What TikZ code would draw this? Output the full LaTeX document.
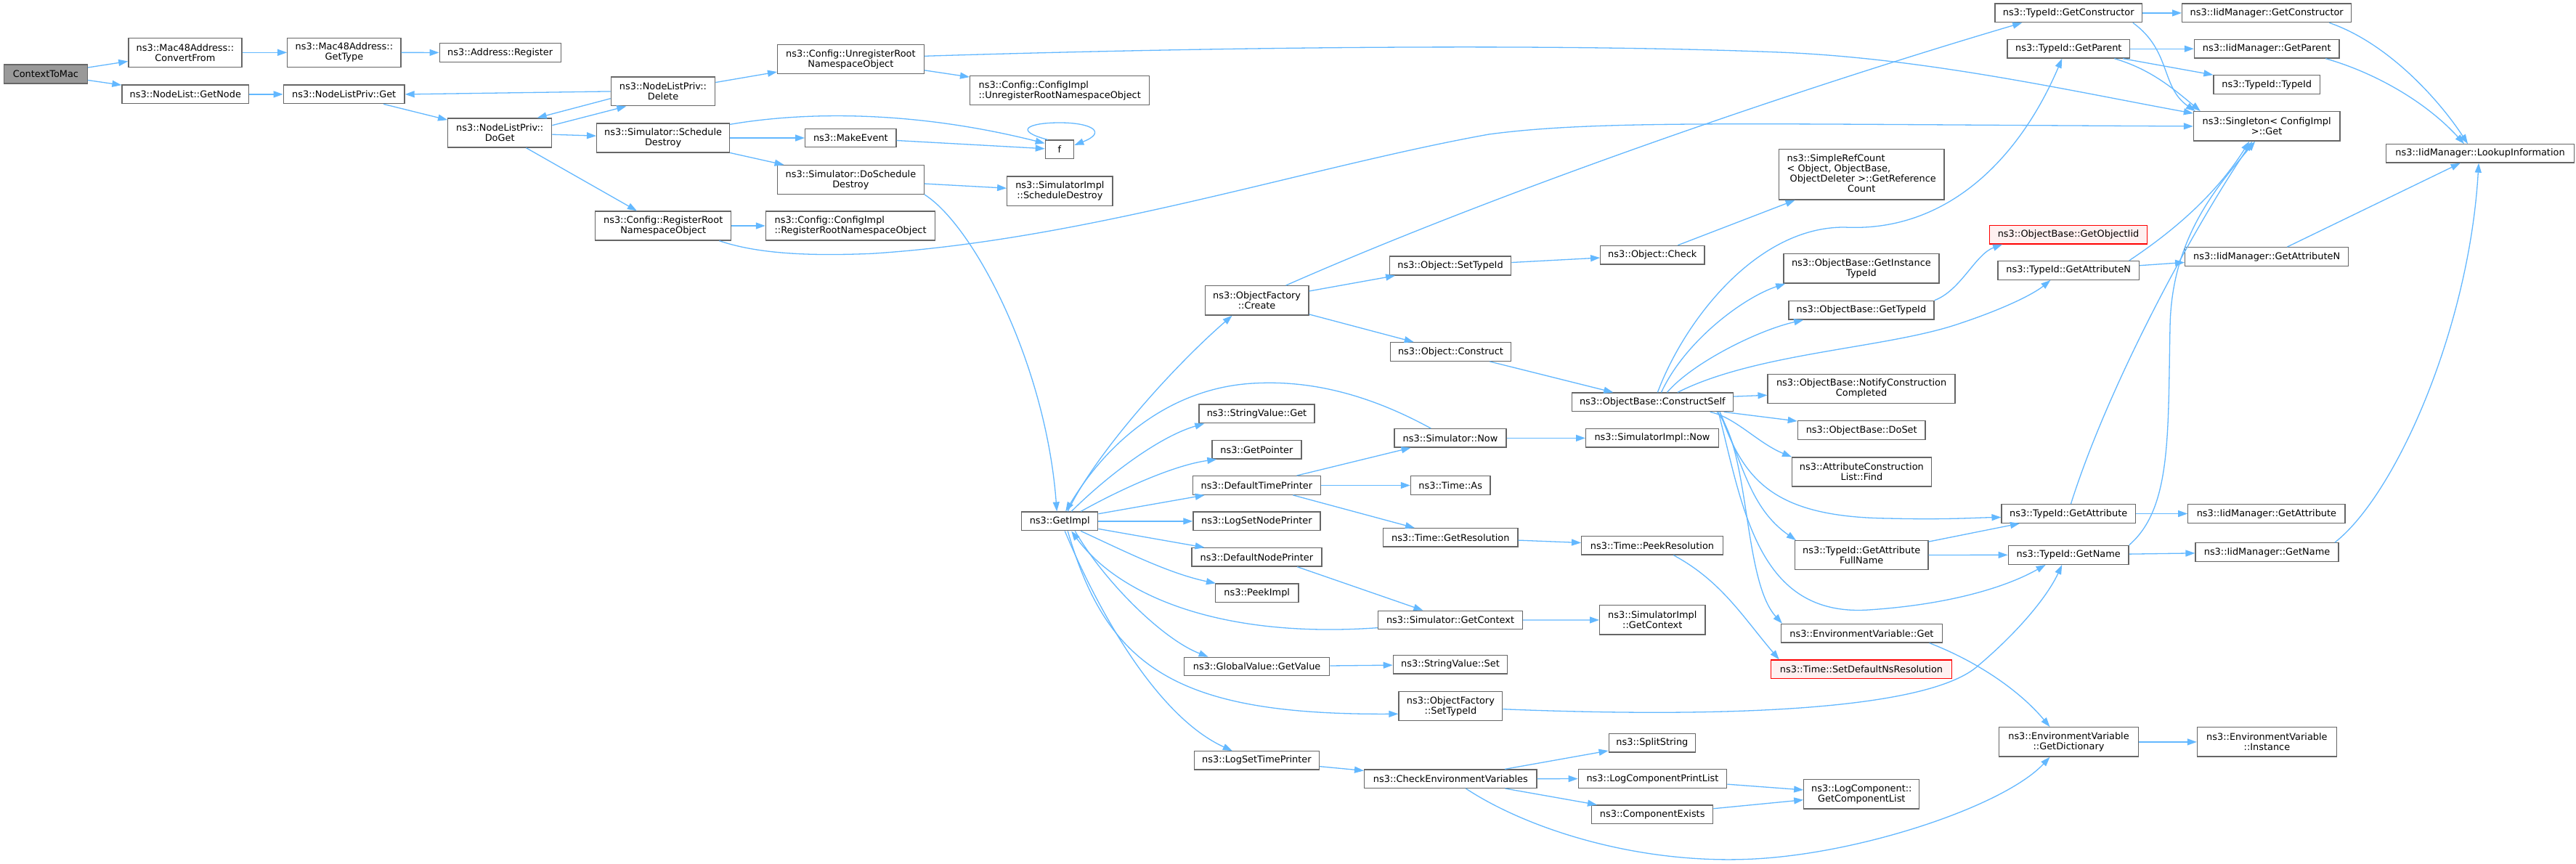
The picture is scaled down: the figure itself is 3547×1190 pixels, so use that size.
\documentclass[tikz,border=0pt]{standalone}
\usepackage{fontspec}
\setmainfont{DejaVu Sans}
\usetikzlibrary{arrows.meta,calc}
\definecolor{edgec}{HTML}{63B8FF}
\definecolor{bord}{HTML}{666666}
\definecolor{grayfill}{HTML}{999999}
\definecolor{redfill}{HTML}{FFF0F0}
\definecolor{redline}{HTML}{FF0000}
\newcommand\nd[7][]{\node[box,#1,minimum width=#5pt,minimum height=#6pt] (#2) at (#3,#4) {#7};}
\begin{document}
\begin{tikzpicture}[x=1pt,y=-1pt,
 box/.style={draw=bord, line width=1.3pt, fill=white, rectangle, inner sep=0pt, align=center, font=\fontsize{12.9}{14}\selectfont},
 rootbox/.style={fill=grayfill},
 redbox/.style={draw=redline, fill=redfill},
 e/.style={draw=edgec, line width=1.3pt, -{Triangle[length=13pt,width=9pt]}}]
\useasboundingbox (0,0) rectangle (3547,1190);
\fill[white] (0,0) rectangle (3547,1190);
% column 0-3
\nd[rootbox]{ctm}{62.9}{102}{114.8}{26}{ContextToMac}
\nd{cf}{254.9}{72.3}{156.1}{40}{ns3::Mac48Address::\\ConvertFrom}
\nd{gt}{473.9}{72.3}{156.2}{40}{ns3::Mac48Address::\\GetType}
\nd{reg}{688.7}{72.5}{167}{25.6}{ns3::Address::Register}
\nd{gn}{255.3}{129.9}{174.6}{25.7}{ns3::NodeList::GetNode}
\nd{nlg}{473.7}{129.9}{166.7}{25.7}{ns3::NodeListPriv::Get}
\nd{doget}{688.2}{183}{143}{40}{ns3::NodeListPriv::\\DoGet}
% column 4-6
\nd{del}{913}{125.9}{143.3}{39.7}{ns3::NodeListPriv::\\Delete}
\nd{sd}{913.1}{190}{182.8}{40}{ns3::Simulator::Schedule\\Destroy}
\nd{rr}{913.2}{311}{187.1}{40}{ns3::Config::RegisterRoot\\NamespaceObject}
\nd{unreg}{1171.4}{81.7}{201.6}{40}{ns3::Config::UnregisterRoot\\NamespaceObject}
\nd{me}{1171.4}{190}{125.3}{25.4}{ns3::MakeEvent}
\nd{dsd}{1171.4}{247.5}{201.6}{39.6}{ns3::Simulator::DoSchedule\\Destroy}
\nd[align=left]{cirr}{1171.1}{311}{233.4}{40}{ns3::Config::ConfigImpl\\::RegisterRootNamespaceObject}
\nd[align=left]{ciunreg}{1459.2}{124.5}{247.1}{40.4}{ns3::Config::ConfigImpl\\::UnregisterRootNamespaceObject}
\nd{f}{1459}{205.9}{39.3}{25.7}{f}
\nd{sisd}{1459.4}{263.2}{145.3}{40.3}{ns3::SimulatorImpl\\::ScheduleDestroy}
\nd{gimpl}{1459.2}{717.9}{105.1}{25.7}{ns3::GetImpl}
% column 7
\nd{ofc}{1730.6}{413.9}{142.8}{40.3}{ns3::ObjectFactory\\::Create}
\nd{svget}{1730.5}{569.9}{159}{25.7}{ns3::StringValue::Get}
\nd{gp}{1730.4}{619.4}{122.9}{25.3}{ns3::GetPointer}
\nd{dtp}{1730.4}{668.5}{176.1}{25.6}{ns3::DefaultTimePrinter}
\nd{lsnp}{1730.4}{717.9}{175}{25.7}{ns3::LogSetNodePrinter}
\nd{dnp}{1730.4}{767.4}{179.1}{25.3}{ns3::DefaultNodePrinter}
\nd{pi}{1730.7}{816.7}{114.3}{25.3}{ns3::PeekImpl}
\nd{gvgv}{1730.6}{918}{200}{25.4}{ns3::GlobalValue::GetValue}
\nd{lstp}{1730.4}{1047.4}{171.9}{25.3}{ns3::LogSetTimePrinter}
% column 8
\nd{ost}{1997}{366}{167.3}{26}{ns3::Object::SetTypeId}
\nd{oc}{1997.5}{484.5}{166.3}{25.6}{ns3::Object::Construct}
\nd{snow}{1997}{603.4}{154.2}{25.3}{ns3::Simulator::Now}
\nd{tas}{1997.2}{668.5}{109.5}{25.6}{ns3::Time::As}
\nd{tgr}{1997.3}{740.4}{185.3}{25.3}{ns3::Time::GetResolution}
\nd{sgc}{1997}{854}{198.9}{25.4}{ns3::Simulator::GetContext}
\nd{svs}{1997}{915.3}{157.3}{25.5}{ns3::StringValue::Set}
\nd{ofst}{1997.4}{972.6}{142.8}{40.2}{ns3::ObjectFactory\\::SetTypeId}
\nd{cev}{1997.3}{1072.7}{237.3}{25.3}{ns3::CheckEnvironmentVariables}
% column 9
\nd{chk}{2275.3}{351.2}{143.1}{25.7}{ns3::Object::Check}
\nd{cs}{2275.3}{553.9}{222.3}{25.7}{ns3::ObjectBase::ConstructSelf}
\nd{sinow}{2275}{603.4}{182.7}{25.3}{ns3::SimulatorImpl::Now}
\nd{tpr}{2275}{751.4}{194.6}{25.3}{ns3::Time::PeekResolution}
\nd{sigc}{2275.3}{853.9}{145.3}{40.3}{ns3::SimulatorImpl\\::GetContext}
\nd{split}{2274.9}{1023.2}{119.4}{25.7}{ns3::SplitString}
\nd{lcpl}{2275.5}{1072.5}{204.3}{25.6}{ns3::LogComponentPrintList}
\nd{ce}{2275.2}{1121.9}{167.1}{25.7}{ns3::ComponentExists}
% column 10
\nd{src}{2563.2}{240.4}{227.7}{69.3}{\begin{tabular}{@{}l@{}}ns3::SimpleRefCount\\< Object, ObjectBase,\\\hspace*{4pt}ObjectDeleter >::GetReference\\\multicolumn{1}{@{}c@{}}{Count}\end{tabular}}
\nd{git}{2562.9}{369.9}{214.1}{40.3}{ns3::ObjectBase::GetInstance\\TypeId}
\nd{gtid}{2562.9}{427.2}{200.1}{25.7}{ns3::ObjectBase::GetTypeId}
\nd{ncc}{2563.1}{535.3}{258}{40}{ns3::ObjectBase::NotifyConstruction\\Completed}
\nd{doset}{2563.2}{592.5}{175.7}{25.6}{ns3::ObjectBase::DoSet}
\nd{acl}{2563.4}{650}{192.4}{40}{ns3::AttributeConstruction\\List::Find}
\nd{gafn}{2563.2}{764.5}{183.3}{39.6}{ns3::TypeId::GetAttribute\\FullName}
\nd{evget}{2563.4}{872.2}{221.7}{25.7}{ns3::EnvironmentVariable::Get}
\nd[redbox]{sdnr}{2563}{921.9}{249.1}{25.7}{ns3::Time::SetDefaultNsResolution}
\nd{gcl}{2563.3}{1093.9}{159}{40.3}{ns3::LogComponent::\\GetComponentList}
% column 11
\nd{tgc}{2848.2}{17.9}{202.6}{25.7}{ns3::TypeId::GetConstructor}
\nd{tgp}{2848.3}{67.2}{168.9}{25.7}{ns3::TypeId::GetParent}
\nd[redbox]{goi}{2848}{323.2}{217.3}{25.7}{ns3::ObjectBase::GetObjectIid}
\nd{tgan}{2848.2}{372.4}{194.4}{25.8}{ns3::TypeId::GetAttributeN}
\nd{tga}{2848.2}{707.5}{184.2}{25.6}{ns3::TypeId::GetAttribute}
\nd{tgn}{2848.2}{764.3}{165.8}{26}{ns3::TypeId::GetName}
\nd{gdict}{2848.5}{1021.9}{191.9}{40.3}{ns3::EnvironmentVariable\\::GetDictionary}
% column 12
\nd{igc}{3121.2}{17.9}{233.1}{25.7}{ns3::IidManager::GetConstructor}
\nd{igp}{3121.2}{67.2}{199.5}{25.7}{ns3::IidManager::GetParent}
\nd{tti}{3121.2}{116.5}{146.4}{25.6}{ns3::TypeId::TypeId}
\nd{sing}{3121.2}{173.9}{201.5}{40.3}{ns3::Singleton< ConfigImpl\\ >::Get}
\nd{igan}{3121.2}{353.7}{225}{26}{ns3::IidManager::GetAttributeN}
\nd{iga}{3120.9}{707.5}{216.2}{25.6}{ns3::IidManager::GetAttribute}
\nd{ign}{3121.5}{760.5}{196.9}{25.6}{ns3::IidManager::GetName}
\nd{evi}{3121.4}{1021.9}{191.8}{40.3}{ns3::EnvironmentVariable\\::Instance}
% column 13
\nd{lookup}{3415}{211.4}{258.7}{25.3}{ns3::IidManager::LookupInformation}

% ---------------- edges ----------------
\draw[e] (ctm) -- (cf);
\draw[e] (ctm) -- (gn);
\draw[e] (cf) -- (gt);
\draw[e] (gt) -- (reg);
\draw[e] (gn) -- (nlg);
\draw[e] (nlg) -- (doget);
\draw[e] ($(doget.north east)+(0,10.3)$) -- ($(del.south west)+(21.6,0)$);
\draw[e] ($(del.west)+(0,9.8)$) -- ($(doget.north east)+(-20.7,0)$);
\draw[e] (del.west) -- (nlg.east);
\draw[e] (del) -- (unreg);
\draw[e] (unreg) -- (ciunreg);
\draw[e] ($(unreg.east)+(0,-4.4)$) .. controls (1700,64) and (2150,60) .. (2450,72) .. controls (2650,80) and (2850,125) .. ($(sing.north west)+(0,3)$);
\draw[e] (doget) -- (sd);
\draw[e] (doget) -- (rr);
\draw[e] ($(sd.north east)+(0,2)$) .. controls (1100,155) and (1250,150) .. ($(f.north west)+(0,5)$);
\draw[e] (sd) -- (me);
\draw[e] (sd) -- (dsd);
\draw[e] (me) -- (f);
\draw[e] ($(f.north west)+(4,0)$) .. controls (1395,180) and (1415,169) .. (1459,169) .. controls (1503,169) and (1525,182) .. ($(f.east)+(0,-6)$);
\draw[e] (dsd) -- (sisd);
\draw[e] (dsd.south east) .. controls (1340,310) and (1440,500) .. ($(gimpl.north)+(-4,0)$);
\draw[e] (rr) -- (cirr);
\draw[e] ($(rr.south east)+(-17,0)$) .. controls (1050,352) and (1130,352) .. (1200,349.3) .. controls (1500,330) and (1800,230) .. (2050,185) .. controls (2200,165) and (2400,171) .. (sing.west);
\draw[e] ($(gimpl.north)+(11,0)$) .. controls (1505,630) and (1610,510) .. ($(ofc.south west)+(38,0)$);
\draw[e] ($(ofc.north west)+(112,0)$) .. controls (2050,270) and (2450,130) .. ($(tgc.south west)+(38,0)$);
\draw[e] (ofc) -- (ost);
\draw[e] (ofc) -- (oc);
\draw[e] ($(snow.north)+(-26.6,0)$) .. controls (1870,535) and (1790,525) .. (1730.6,527.7) .. controls (1620,532) and (1530,600) .. ($(gimpl.north)+(8,0)$);
\draw[e] ($(gimpl.north)+(16,0)$) .. controls (1530,650) and (1600,600) .. ($(svget.south west)+(8,0)$);
\draw[e] ($(gimpl.north)+(29,0)$) .. controls (1550,670) and (1620,640) .. ($(gp.south west)+(7,0)$);
\draw[e] ($(gimpl.north east)+(0,3.3)$) -- ($(dtp.south west)+(17,0)$);
\draw[e] (gimpl) -- (lsnp);
\draw[e] ($(gimpl.south east)+(0,-3)$) -- ($(dnp.north west)+(18.4,0)$);
\draw[e] ($(gimpl.south)+(29,0)$) .. controls (1550,760) and (1610,790) .. ($(pi.north west)+(1,0)$);
\draw[e] ($(sgc.south west)+(0,-2.7)$) .. controls (1680,880) and (1540,820) .. ($(gimpl.south)+(16,0)$);
\draw[e] ($(gimpl.south)+(21,0)$) .. controls (1520,800) and (1600,880) .. ($(gvgv.north west)+(33.7,0)$);
\draw[e] ($(gimpl.south)+(11,0)$) .. controls (1525,920) and (1620,985) .. ($(ofst.west)+(0,10.7)$);
\draw[e] ($(gimpl.south)+(7,0)$) .. controls (1520,860) and (1600,990) .. ($(lstp.north west)+(53,0)$);
\draw[e] (dtp) -- (snow);
\draw[e] (dtp) -- (tas);
\draw[e] (dtp) -- (tgr);
\draw[e] ($(dnp.south west)+(146,0)$) -- ($(sgc.north west)+(62.5,0)$);
\draw[e] (gvgv) -- (svs);
\draw[e] ($(ofst.east)+(0,4.1)$) .. controls (2400,990) and (2650,975) .. (2720,920) .. controls (2780,870) and (2820,820) .. ($(tgn.south)+(-9,0)$);
\draw[e] (lstp) -- (cev);
\draw[e] (cev) -- (split);
\draw[e] (cev) -- (lcpl);
\draw[e] (cev) -- (ce);
\draw[e] ($(cev.south west)+(140.3,0)$) .. controls (2100,1140) and (2250,1190) .. (2409,1183.3) .. controls (2560,1177) and (2760,1110) .. ($(gdict.south)+(-26,0)$);
\draw[e] (lcpl) -- (gcl);
\draw[e] (ce) -- (gcl);
\draw[e] (ost) -- (chk);
\draw[e] (chk) -- (src);
\draw[e] (oc) -- (cs);
\draw[e] ($(cs.north west)+(118.9,0)$) .. controls (2320,440) and (2420,312) .. (2540,313) .. controls (2680,320) and (2780,220) .. ($(tgp.south)+(-9,0)$);
\draw[e] ($(cs.north west)+(124,0)$) .. controls (2320,470) and (2400,410) .. ($(git.south west)+(3,0)$);
\draw[e] ($(cs.north west)+(132,0)$) .. controls (2330,500) and (2420,455) .. ($(gtid.south west)+(21,0)$);
\draw[e] ($(cs.north west)+(146.4,0)$) .. controls (2420,485) and (2600,480) .. (2700,445) .. controls (2760,425) and (2800,405) .. ($(tgan.south west)+(73,0)$);
\draw[e] ($(cs.north east)+(0,5.7)$) -- ($(ncc.west)+(0,9)$);
\draw[e] ($(cs.south east)+(-13.4,0)$) -- ($(doset.north west)+(0,1)$);
\draw[e] ($(cs.south east)+(-32.4,0)$) .. controls (2390,575) and (2420,610) .. ($(acl.north west)+(0.5,0)$);
\draw[e] ($(cs.south east)+(-19,0)$) .. controls (2400,660) and (2440,712) .. (2600,714) .. controls (2680,716) and (2720,713) .. ($(tga.west)+(0,5)$);
\draw[e] ($(cs.south east)+(-19,0)$) .. controls (2400,640) and (2410,700) .. ($(gafn.north west)+(2,0)$);
\draw[e] ($(cs.south east)+(-21,0)$) .. controls (2400,700) and (2420,850) .. (2573,840) .. controls (2680,833) and (2760,810) .. ($(tgn.south west)+(52,0)$);
\draw[e] ($(cs.south east)+(-23,0)$) .. controls (2410,620) and (2400,800) .. ($(evget.north west)+(2,0)$);
\draw[e] ($(tpr.south west)+(127.3,0)$) .. controls (2370,800) and (2400,850) .. ($(sdnr.north west)+(12,0)$);
\draw[e] ($(evget.south east)+(-18.2,0)$) .. controls (2720,910) and (2780,950) .. ($(gdict.north)+(-26,0)$);
\draw[e] (gdict) -- (evi);
\draw[e] (tgr) -- (tpr);
\draw[e] (snow) -- (sinow);
\draw[e] (sgc) -- (sigc);
\draw[e] (gtid.north east) .. controls (2700,400) and (2720,350) .. ($(goi.south west)+(18.4,0)$);
\draw[e] (tgan) -- (igan);
\draw[e] ($(tgan.north east)+(-14.3,0)$) .. controls (2990,320) and (3050,270) .. ($(sing.south)+(-24,0)$);
\draw[e] (tgc) -- (igc);
\draw[e] ($(tgc.south east)+(-13.3,0)$) .. controls (2990,70) and (2975,120) .. ($(sing.north west)+(3,0)$);
\draw[e] (tgp) -- (igp);
\draw[e] (tgp) -- (tti);
\draw[e] ($(tgp.south east)+(-22,0)$) .. controls (2960,95) and (2990,120) .. ($(sing.north west)+(10,0)$);
\draw[e] ($(igc.south east)+(-31.1,0)$) .. controls (3290,60) and (3360,140) .. ($(lookup.north)+(-17,0)$);
\draw[e] ($(igp.south east)+(-19.4,0)$) .. controls (3270,100) and (3340,140) .. ($(lookup.north)+(-22,0)$);
\draw[e] (igan) -- (lookup);
\draw[e] ($(ign.north east)+(-5.6,0)$) .. controls (3300,680) and (3400,450) .. ($(lookup.south)+(-2,0)$);
\draw[e] (tga) -- (iga);
\draw[e] ($(tga.north west)+(96,0)$) .. controls (2900,540) and (3010,330) .. ($(sing.south)+(-20,0)$);
\draw[e] (tgn) -- (ign);
\draw[e] (tgn.north east) .. controls (2990,700) and (2985,600) .. (2988,450) .. controls (2990,330) and (3050,260) .. ($(sing.south)+(-16,0)$);
\draw[e] (gafn) -- (tga);
\draw[e] (gafn) -- (tgn);
\end{tikzpicture}
\end{document}
